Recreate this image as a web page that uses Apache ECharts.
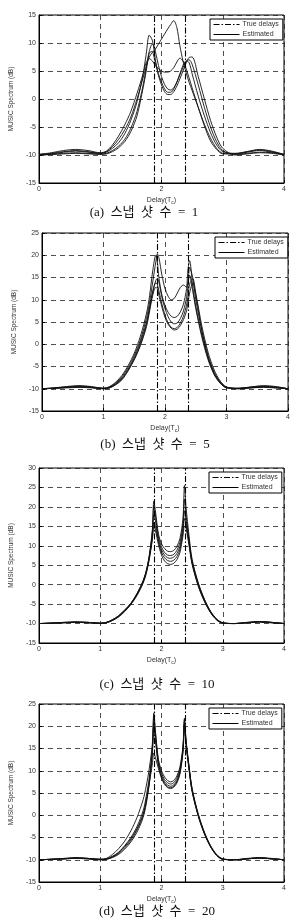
<!DOCTYPE html>
<html><head><meta charset="utf-8">
<script src="https://cdn.jsdelivr.net/npm/echarts@6/dist/echarts.min.js"></script>
<style>html,body{margin:0;padding:0;background:#fff}#c{width:293px;height:919px}</style>
</head><body><div id="c"></div>
<script>
// Delay axis samples (T_c)
const delay = [0,0.2,0.4,0.6,0.8,1.0,1.1,1.2,1.3,1.4,1.5,1.6,1.7,1.75,1.8,1.85,1.875,1.9,1.95,2.0,2.05,2.1,2.15,2.2,2.25,2.3,2.35,2.375,2.4,2.45,2.5,2.6,2.7,2.8,2.9,3.0,3.2,3.4,3.6,3.8,4.0];
const trueDelays = [1.875, 2.375];
const captions = ['(a)  스냅  샷  수  =  1','(b)  스냅  샷  수  =  5','(c)  스냅  샷  수  =  10','(d)  스냅  샷  수  =  20'];
const yMins = [-15,-15,-15,-15];
const yMaxs = [15,25,30,25];

// (a) snapshots = 1
const a1 = [-9.9,-9.8,-9.5,-9.3,-9.5,-9.7,-9.5,-8.8,-7.8,-6.2,-3.8,-0.5,4.5,8,11.4,10.5,9,7,4.5,3,1.8,1.2,1.2,1.8,3,4.5,6,6.5,6.8,6.5,4.5,0.5,-3,-6,-8.2,-9.4,-9.7,-9.4,-9.1,-9.4,-9.9];
const a2 = [-9.9,-9.7,-9.4,-9.2,-9.4,-9.7,-9.4,-8.5,-7.2,-5.5,-3.2,0,3.8,5.8,7.5,8.3,8.6,8.9,9.8,10.7,11.6,12.5,13.3,14,12.8,9.5,6.8,5.8,4.8,3,1.5,-1.5,-4.5,-7,-8.8,-9.7,-9.8,-9.5,-9.2,-9.5,-9.9];
const a3 = [-9.9,-9.6,-9.2,-9.0,-9.2,-9.6,-9.3,-8.2,-6.6,-4.6,-2.2,1,4.5,6.5,7.2,6.8,6.4,6,5.4,5.0,4.8,4.8,5,5.6,6.6,7.3,6.8,6.3,5.5,3.8,2,-1.5,-4.8,-7.5,-9,-9.8,-9.8,-9.4,-9.0,-9.3,-9.9];
const a4 = [-10,-9.9,-9.7,-9.6,-9.7,-9.8,-9.7,-9.2,-8.4,-7.2,-5.2,-2.2,2.5,5.5,8.5,9.8,9.6,8.5,6,4,2.6,1.8,1.6,2,3,4.3,5.6,6.2,6.7,7,6.2,2.5,-1.5,-5,-7.6,-9.2,-9.9,-9.7,-9.5,-9.6,-10];
const a5 = [-10,-9.9,-9.8,-9.7,-9.8,-9.9,-9.8,-9.4,-8.7,-7.6,-5.8,-3,2,5,8.2,8.5,7.6,6.5,4.2,2.5,1.3,0.8,0.8,1.3,2.3,3.6,5,5.7,6.4,7.4,7.5,4,0,-3.8,-6.8,-8.8,-10,-9.8,-9.6,-9.7,-10];
// (b) snapshots = 5
const b1 = [-10,-9.8,-9.6,-9.4,-9.6,-9.9,-9.6,-8.7,-7.3,-5.2,-2.5,1,6,9.5,14,18.5,20.3,19.5,15.5,12.5,10.8,10,10.3,11.5,12.8,13.3,12.8,14,15.5,12,8,1.5,-3.5,-6.8,-8.8,-9.8,-9.9,-9.6,-9.4,-9.6,-10];
const b2 = [-10,-9.8,-9.5,-9.3,-9.5,-9.9,-9.5,-8.5,-7,-4.8,-2,1.8,7,11,16.5,20,18.5,15,11,8.7,7.2,6.3,6,6.3,7.3,9,12.5,17,18.8,13,8.5,2,-3,-6.5,-8.6,-9.7,-9.9,-9.6,-9.3,-9.5,-10];
const b3 = [-10,-9.9,-9.7,-9.5,-9.7,-9.9,-9.7,-8.9,-7.6,-5.6,-3,0.5,5,8.5,12,14.3,14.8,14,10.5,8,6.2,5,4.6,4.8,5.8,7.5,10.5,13.5,17.3,15,10,3,-2.5,-6.3,-8.5,-9.7,-9.9,-9.7,-9.5,-9.7,-10];
const b4 = [-10,-9.9,-9.7,-9.6,-9.7,-10,-9.8,-9,-7.8,-5.8,-3.3,0,4.5,8,11.5,13.8,13.5,12,9,6.5,4.8,3.8,3.5,3.8,4.8,6.3,8.8,11,13.5,14.8,11.5,4,-1.8,-5.8,-8.3,-9.6,-10,-9.8,-9.6,-9.8,-10];
const b5 = [-10,-9.9,-9.8,-9.7,-9.8,-10,-9.8,-9.1,-8,-6,-3.5,-0.3,4,7.5,11,12.8,12.5,11,8.3,6,4.5,3.6,3.2,3.4,4.2,5.5,7.5,9.5,11.5,13.8,11,3,-3,-6.8,-8.8,-9.8,-10,-9.8,-9.7,-9.8,-10];
// (c) snapshots = 10
const c1 = [-10,-9.9,-9.7,-9.6,-9.7,-9.9,-9.7,-9,-8,-6.5,-4.8,-2.3,1,3.5,7.5,14,21.5,19,13,10.5,9.3,8.6,8.5,8.8,9.8,11.8,17,25.5,20,12.5,6.5,0.5,-3.7,-6.8,-8.8,-9.8,-10,-9.7,-9.5,-9.7,-10];
const c2 = [-10,-9.9,-9.7,-9.6,-9.7,-9.9,-9.7,-9,-8,-6.5,-4.8,-2.3,1,3.5,7.3,13.5,20.5,18,12.3,9.7,8.3,7.6,7.5,7.8,8.8,10.8,15.5,22,18,11.5,6,0.3,-3.8,-6.9,-8.9,-9.8,-10,-9.7,-9.5,-9.7,-10];
const c3 = [-10,-9.9,-9.8,-9.6,-9.7,-9.9,-9.7,-9.1,-8.1,-6.6,-4.9,-2.4,0.8,3.2,7,12.8,18,16.5,11.5,9,7.6,6.9,6.8,7.1,8,9.8,14.5,19,16.5,11,5.7,0,-4,-7,-9,-9.8,-10,-9.8,-9.5,-9.7,-10];
const c4 = [-10,-9.9,-9.8,-9.7,-9.8,-10,-9.8,-9.2,-8.2,-6.8,-5,-2.6,0.6,3,6.8,12,16,15,11,8.3,6.9,6.2,6,6.3,7.2,9,13.5,17,15.5,10.5,5.5,-0.2,-4.2,-7.1,-9,-9.9,-10,-9.8,-9.6,-9.8,-10];
const c5 = [-10,-9.9,-9.8,-9.7,-9.8,-10,-9.8,-9.2,-8.3,-6.9,-5.1,-2.8,0.4,2.8,6.5,11.5,15,14,10.3,7.6,6.1,5.4,5.2,5.5,6.4,8.2,12.5,15,14.5,10,5.2,-0.4,-4.3,-7.2,-9.1,-9.9,-10,-9.8,-9.6,-9.8,-10];
// (d) snapshots = 20
const d1 = [-10,-9.9,-9.7,-9.5,-9.7,-9.9,-9.7,-8.8,-7.5,-5.8,-3.5,-0.5,3.5,6.5,10.5,16,23,19,12.5,10,8.6,7.8,7.5,7.8,8.8,10.8,15.5,21.8,17,11,6,0.3,-3.8,-6.8,-8.8,-9.8,-10,-9.7,-9.5,-9.7,-10];
const d2 = [-10,-9.9,-9.8,-9.6,-9.7,-9.9,-9.8,-9.2,-8.3,-6.8,-5,-2.5,1,4.2,8.5,15,22.5,18.5,12,9.5,8,7.3,7,7.3,8.3,10.3,15,21.5,16.8,10.8,5.8,0.1,-3.9,-6.9,-8.9,-9.8,-10,-9.8,-9.6,-9.8,-10];
const d3 = [-10,-9.9,-9.8,-9.7,-9.8,-10,-9.9,-9.5,-8.8,-7.6,-6,-3.8,-0.5,2.5,7,14,21,17.5,11.5,9,7.5,6.8,6.5,6.8,7.8,9.8,14.8,21,16.5,10.6,5.6,0,-4,-7,-9,-9.9,-10,-9.8,-9.6,-9.8,-10];
const d4 = [-10,-9.9,-9.8,-9.7,-9.8,-10,-9.9,-9.4,-8.6,-7.3,-5.6,-3.3,0,3,7.5,14,20,17,11,8.6,7.2,6.4,6.2,6.5,7.5,9.5,14.5,20.5,16.2,10.4,5.4,-0.1,-4.1,-7,-9,-9.9,-10,-9.8,-9.6,-9.8,-10];
const d5 = [-10,-9.9,-9.8,-9.6,-9.7,-9.9,-9.8,-9.3,-8.4,-7,-5.3,-3,0.3,3.3,7.2,11.5,14,13,10.5,8.3,6.9,6.2,6,6.3,7.2,9.2,14,20,16,10.2,5.3,-0.2,-4.2,-7.1,-9,-9.9,-10,-9.8,-9.6,-9.8,-10];

const panelCurves = [[a1,a2,a3,a4,a5],[b1,b2,b3,b4,b5],[c1,c2,c3,c4,c5],[d1,d2,d3,d4,d5]];

// layout (pixels)
const layout = [
  {left:35, top:15, width:249, height:168, legL:210, legT:19, capY:213, capX:144, nameGapY:21},
  {left:42, top:233, width:248, height:178, legL:215, legT:237, capY:445, capX:155, nameGapY:22},
  {left:35, top:468, width:249, height:175, legL:209, legT:472, capY:685, capX:157, nameGapY:21},
  {left:35, top:704, width:249, height:178, legL:209, legT:708, capY:912, capX:157, nameGapY:21}
];
const FONT = 'Liberation Sans, Arial, sans-serif';
const dashDot = [6,2,1.5,2];

const grids=[], xAxes=[], yAxes=[], series=[], legends=[], graphics=[];
layout.forEach((L,i)=>{
  grids.push({left:L.left, top:L.top, width:L.width, height:L.height, show:true, borderColor:'#000', borderWidth:1, backgroundColor:'#fff'});
  xAxes.push({type:'value', gridIndex:i, min:0, max:4, interval:1,
    axisLine:{show:true,onZero:false,lineStyle:{color:'#000',width:1}},
    axisTick:{show:true,inside:true,length:3,lineStyle:{color:'#000'}},
    axisLabel:{fontSize:7,color:'#333',fontFamily:FONT,margin:3},
    splitLine:{show:true,lineStyle:{color:'#222',type:[5,4],width:0.8}},
    name:'Delay(T{s|c})', nameLocation:'middle', nameGap:13,
    nameTextStyle:{fontSize:7,color:'#333',fontFamily:FONT,rich:{s:{fontSize:5,fontFamily:FONT,color:'#333',padding:[4,0,0,0]}}}
  });
  yAxes.push({type:'value', gridIndex:i, min:yMins[i], max:yMaxs[i], interval:5,
    axisLine:{show:true,onZero:false,lineStyle:{color:'#000',width:1}},
    axisTick:{show:true,inside:true,length:3,lineStyle:{color:'#000'}},
    axisLabel:{fontSize:7,color:'#333',fontFamily:FONT,margin:3},
    splitLine:{show:true,lineStyle:{color:'#222',type:[5,4],width:0.8}},
    name:'MUSIC Spectrum (dB)', nameLocation:'middle', nameRotate:90, nameGap:L.nameGapY,
    nameTextStyle:{fontSize:6.5,color:'#333',fontFamily:FONT}
  });
  panelCurves[i].forEach(ys=>{
    series.push({type:'line', name:'Estimated', xAxisIndex:i, yAxisIndex:i, symbol:'none', smooth:0.3,
      itemStyle:{color:'#111'},
      lineStyle:{color:'#111',width:0.9}, data:delay.map((x,k)=>[x,ys[k]]), animation:false});
  });
  series.push({type:'line', name:'True delays', xAxisIndex:i, yAxisIndex:i, symbol:'none', data:[],
    itemStyle:{color:'#000'},
    lineStyle:{color:'#000',width:1,type:dashDot}, animation:false,
    markLine:{silent:true, symbol:'none', label:{show:false}, animation:false,
      lineStyle:{color:'#000',width:1.1,type:dashDot},
      data:trueDelays.map(v=>({xAxis:v}))}});
  legends.push({orient:'vertical', left:L.legL, top:L.legT,
    data:[{name:'True delays', lineStyle:{type:dashDot,width:1,color:'#000'}},{name:'Estimated', lineStyle:{type:'solid',width:1,color:'#000'}}],
    backgroundColor:'#fff', borderColor:'#000', borderWidth:1, padding:[2,4,2,3], itemGap:3,
    itemWidth:26, itemHeight:6, selectedMode:false,
    itemStyle:{opacity:0, borderWidth:0},
    lineStyle:{width:1,color:'#000'},
    textStyle:{fontSize:7,color:'#333',fontFamily:FONT,padding:[0,0,0,-2]}});
  graphics.push({type:'text', x:L.capX, y:L.capY, style:{text:captions[i], fontSize:13, fill:'#111', textAlign:'center', textVerticalAlign:'middle', fontFamily:'Liberation Serif, Noto Sans CJK KR, serif'}});
});

const chart = echarts.init(document.getElementById('c'), null, {renderer:'canvas'});
chart.setOption({animation:false, backgroundColor:'#fff', grid:grids, xAxis:xAxes, yAxis:yAxes, series:series, legend:legends, graphic:graphics});
</script></body></html>
